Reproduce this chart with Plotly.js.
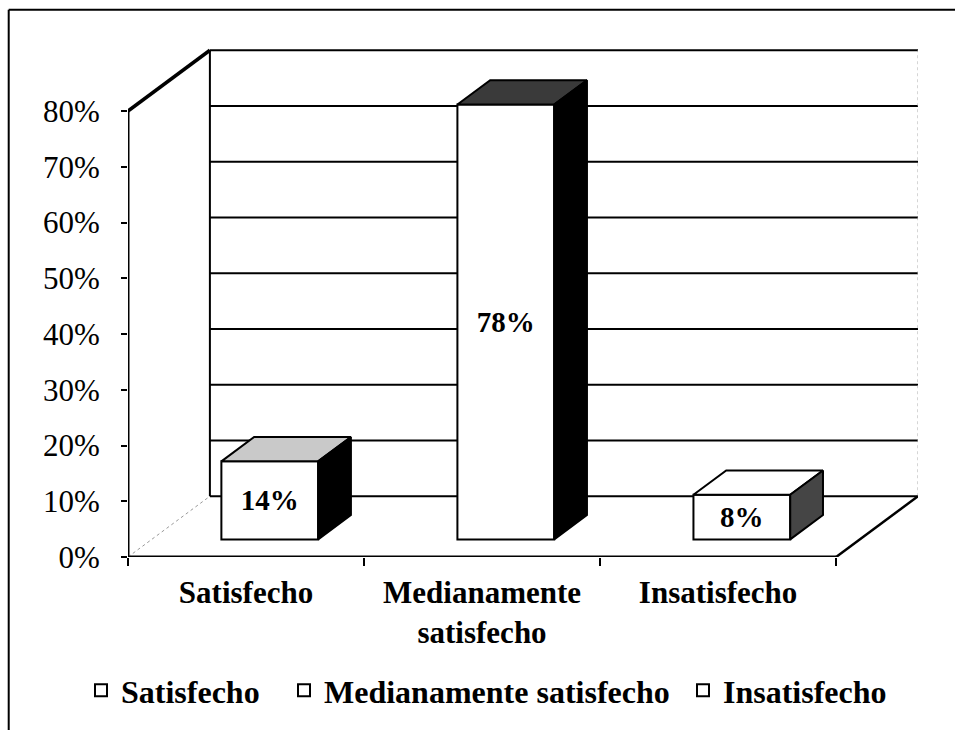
<!DOCTYPE html>
<html>
<head>
<meta charset="utf-8">
<script src="https://cdn.plot.ly/plotly-3.0.1.min.js"></script>
<style>html,body{margin:0;padding:0;background:#fff;}#chart{width:955px;height:730px;}</style>
</head>
<body>
<div id="chart"></div>
<script>
// ---- data ----
const categories = ['Satisfecho', 'Medianamente satisfecho', 'Insatisfecho'];
const tickLabels = ['Satisfecho', 'Medianamente<br>satisfecho', 'Insatisfecho'];
const values = [14, 78, 8];
const valueLabels = ['14%', '78%', '8%'];
const yTickVals = [0, 10, 20, 30, 40, 50, 60, 70, 80];
const yTickText = ['0%', '10%', '20%', '30%', '40%', '50%', '60%', '70%', '80%'];

// ---- style / 3D geometry (not data) ----
const topColors = ['#c9c9c9', '#3a3a3a', '#ffffff'];
const sideColors = ['#000000', '#000000', '#454545'];
const legendIds = ['legend', 'legend2', 'legend3'];
const legendX = [-0.0595, 0.1975, 0.7025];
const DX = 0.347;     // depth of the 3D box in category units
const DY = 10.9;      // depth of the 3D box in percent units
const F0 = 0.29, F1 = 0.69; // front/back depth fractions of the bars
const BW = 0.41;      // bar width in category units
const YMAX = 80;
const serif = 'Liberation Serif';

const traces = [];
categories.forEach((c, i) => {
  traces.push({
    type: 'bar', name: c, legend: legendIds[i],
    x: [i + F0 * DX], y: [values[i]], base: [F0 * DY], width: [BW],
    marker: {color: '#ffffff', line: {color: '#000', width: 2}},
    text: [valueLabels[i]], textposition: 'inside', insidetextanchor: 'middle',
    constraintext: 'none',
    insidetextfont: {family: serif, size: 29, color: '#000', weight: 'bold'},
    hoverinfo: 'skip', showlegend: true
  });
});
const ddx = (F1 - F0) * DX, ddy = (F1 - F0) * DY;
categories.forEach((c, i) => {
  const xc = i + F0 * DX, xL = xc - BW / 2, xR = xc + BW / 2;
  const b = F0 * DY, t = b + values[i];
  traces.push({
    type: 'scatter', mode: 'lines', fill: 'toself', fillcolor: topColors[i],
    x: [xL, xR, xR + ddx, xL + ddx, xL], y: [t, t, t + ddy, t + ddy, t],
    line: {color: '#000', width: 2}, hoverinfo: 'skip', showlegend: false
  });
  traces.push({
    type: 'scatter', mode: 'lines', fill: 'toself', fillcolor: sideColors[i],
    x: [xR, xR, xR + ddx, xR + ddx, xR], y: [b, t, t + ddy, b + ddy, b],
    line: {color: '#000', width: 2}, hoverinfo: 'skip', showlegend: false
  });
});
// invisible trace for the boundary ticks axis
traces.push({type: 'scatter', x: [-0.5], y: [0], xaxis: 'x2', mode: 'markers',
  marker: {opacity: 0}, hoverinfo: 'skip', showlegend: false});

const shapes = [];
const ln = (x0, y0, x1, y1, w, extra) => Object.assign({type: 'line', xref: 'x', yref: 'y',
  x0, y0, x1, y1, layer: 'below', line: {color: '#000', width: w}}, extra || {});
// back wall gridlines
yTickVals.forEach(v => shapes.push(ln(-0.5 + DX, v + DY, 2.5 + DX, v + DY, 2)));
// back wall left edge
shapes.push(ln(-0.5 + DX, DY, -0.5 + DX, YMAX + DY, 2));
// back wall right edge (faint)
shapes.push(ln(2.5 + DX, DY, 2.5 + DX, YMAX + DY, 1, {line: {color: '#aaa', width: 1, dash: 'dot'}}));
// left wall: front axis and top diagonal
shapes.push(ln(-0.5, 0, -0.5, YMAX, 3));
shapes.push(ln(-0.5, YMAX, -0.5 + DX, YMAX + DY, 3.5));
shapes.push(ln(-0.5, 0, -0.5 + DX, DY, 1, {line: {color: '#999', width: 1, dash: 'dot'}}));
// floor
shapes.push(ln(-0.5, 0, 2.5, 0, 3));
shapes.push(ln(2.5, 0, 2.5 + DX, DY, 2.5));
// outer frame (top and left)
shapes.push({type: 'line', xref: 'paper', yref: 'paper', x0: -0.151, x1: 1.06, y0: 1.075, y1: 1.075,
  line: {color: '#000', width: 2}});
shapes.push({type: 'line', xref: 'paper', yref: 'paper', x0: -0.151, x1: -0.151, y0: 1.075, y1: -0.35,
  line: {color: '#000', width: 2}});

const legendStyle = (x) => ({orientation: 'h', x: x, xanchor: 'left', y: -0.262, yanchor: 'middle',
  font: {family: serif, size: 32, color: '#000', weight: 'bold'},
  itemwidth: 30, bgcolor: 'rgba(0,0,0,0)', borderwidth: 0});

const layout = {
  width: 955, height: 730,
  margin: {l: 128, r: 37, t: 48, b: 173},
  paper_bgcolor: '#fff', plot_bgcolor: 'rgba(0,0,0,0)',
  showlegend: true,
  barmode: 'overlay',
  xaxis: {range: [-0.5, 2.5 + DX], tickvals: [0, 1, 2], ticktext: tickLabels,
    ticks: '', showgrid: false, zeroline: false, showline: false,
    tickfont: {family: serif, size: 31, color: '#000', weight: 'bold'},
    ticklabelstandoff: 14, fixedrange: true},
  xaxis2: {overlaying: 'x', anchor: 'y', side: 'bottom', range: [-0.5, 2.5 + DX],
    tickvals: [-0.5, 0.5, 1.5, 2.5], showticklabels: false, ticks: 'outside',
    ticklen: 8, tickwidth: 2, tickcolor: '#000', showgrid: false, zeroline: false, showline: false},
  yaxis: {range: [0, 91.3], tickvals: yTickVals, ticktext: yTickText,
    ticks: 'outside', ticklen: 6, tickwidth: 2, tickcolor: '#000',
    showgrid: false, zeroline: false, showline: false,
    tickfont: {family: serif, size: 31, color: '#000'}, ticklabelstandoff: 15},
  legend: legendStyle(legendX[0]),
  legend2: legendStyle(legendX[1]),
  legend3: legendStyle(legendX[2]),
  shapes: shapes
};

Plotly.newPlot('chart', traces, layout, {displayModeBar: false, staticPlot: true});
</script>
</body>
</html>
